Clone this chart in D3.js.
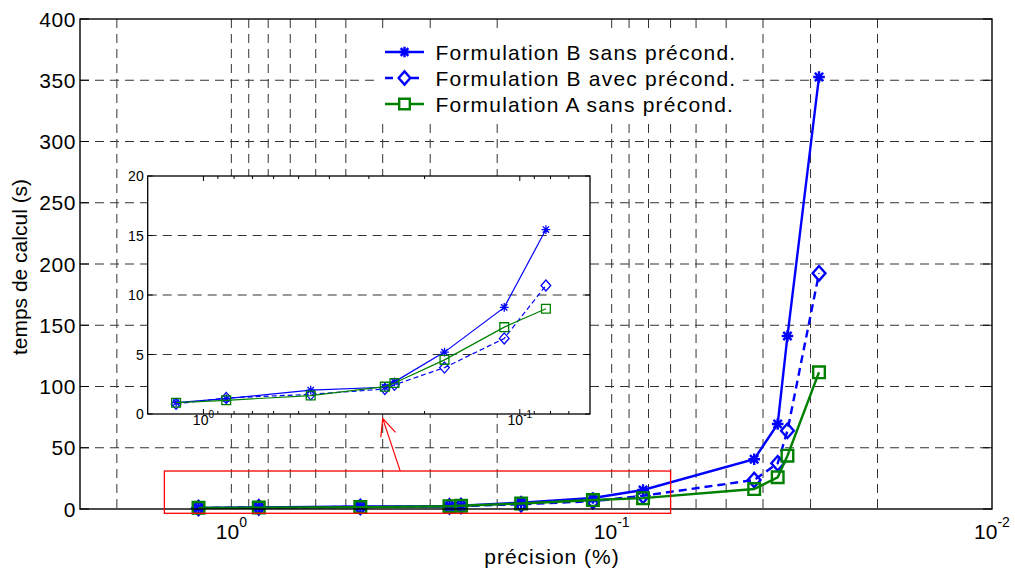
<!DOCTYPE html>
<html><head><meta charset="utf-8">
<script src="https://cdn.jsdelivr.net/npm/d3@7"></script>
<style>
body{margin:0;background:#fff}
svg{display:block}
text{font-family:"Liberation Sans",Arial,Helvetica,sans-serif;fill:#000}
</style>
</head><body>
<svg id="c" width="1015" height="574"></svg>
<script>
// ---- data ----
const precision = [1.22, 0.847, 0.458, 0.267, 0.249, 0.173, 0.112, 0.0827, 0.0422, 0.0366, 0.0345, 0.0285];
const bSans = [0.95, 1.3, 2.0, 2.25, 2.7, 5.2, 8.96, 15.5, 40.6, 69.4, 141.2, 352.7];
const bAvec = [0.85, 1.35, 1.65, 2.1, 2.45, 3.9, 6.35, 10.8, 23.7, 37.3, 63.9, 192.4];
const formA = [0.95, 1.15, 1.55, 2.3, 2.6, 4.55, 7.3, 8.85, 16.3, 25.9, 43.5, 111.6];
const seriesNames = ["Formulation B sans précond.", "Formulation B avec précond.", "Formulation A sans précond."];
const yTicks = [0, 50, 100, 150, 200, 250, 300, 350, 400];
const xTickExp = [0, -1, -2];
const insetYTicks = [0, 5, 10, 15, 20];
const insetXTickExp = [0, -1];
const insetCount = 8;              // points shown in the zoom inset
const zoomRegion = [[1.5, -3.5], [0.07, 31]];   // red box, data units
const arrowTail = [0.36, 31.3], arrowTip = [0.40, 74];

const series = [
  {name: seriesNames[0], values: bSans, color: "#0000ff", dash: null, marker: "star"},
  {name: seriesNames[1], values: bAvec, color: "#0000ff", dash: "dash", marker: "diamond"},
  {name: seriesNames[2], values: formA, color: "#008000", dash: null, marker: "square"}
];

function markerPath(type, s) {
  if (type === "star") {
    const d = s * 0.72;
    return `M${-s},0L${s},0M0,${-s}L0,${s}M${-d},${-d}L${d},${d}M${-d},${d}L${d},${-d}`;
  }
  if (type === "diamond") return `M0,${-s*1.25}L${s*1.1},0L0,${s*1.25}L${-s*1.1},0Z`;
  return `M${-s},${-s}H${s}V${s}H${-s}Z`;
}

const svg = d3.select("#c");
const gridColor = "#333";

// ---- main axes ----
const M = {l: 80, r: 992, t: 19, b: 509};
const x = d3.scaleLog().domain([2.5, 0.01]).range([M.l, M.r]);
const y = d3.scaleLinear().domain([0, 400]).range([M.b, M.t]);

const main = svg.append("g");
const xGrid = x.ticks().filter(v => v < 2.5 && v > 0.01);
main.selectAll("line.vg").data(xGrid).join("line")
  .attr("x1", d => x(d)).attr("x2", d => x(d)).attr("y1", M.t).attr("y2", M.b)
  .attr("stroke", gridColor).attr("stroke-width", 1).attr("stroke-dasharray", "9,6");
main.selectAll("line.hg").data(yTicks.filter(v => v > 0 && v < 400)).join("line")
  .attr("x1", M.l).attr("x2", M.r).attr("y1", d => y(d)).attr("y2", d => y(d))
  .attr("stroke", gridColor).attr("stroke-width", 1).attr("stroke-dasharray", "9,6");

// ticks (inside)
main.selectAll("line.yt").data(yTicks).join("line")
  .attr("x1", M.l).attr("x2", M.l + 9).attr("y1", d => y(d)).attr("y2", d => y(d)).attr("stroke", "#000");
main.selectAll("line.yt2").data(yTicks).join("line")
  .attr("x1", M.r).attr("x2", M.r - 9).attr("y1", d => y(d)).attr("y2", d => y(d)).attr("stroke", "#000");

// y tick labels
main.selectAll("text.yl").data(yTicks).join("text")
  .attr("x", M.l - 4).attr("y", d => y(d)).attr("dy", "0.36em")
  .attr("text-anchor", "end").attr("font-size", 21).attr("letter-spacing", 0.6)
  .text(d => d);

// x tick labels with superscripts
const xl = main.selectAll("text.xl").data(xTickExp).join("text")
  .attr("x", d => x(Math.pow(10, d))).attr("y", 539)
  .attr("text-anchor", "middle").attr("font-size", 21);
xl.append("tspan").text("10");
xl.append("tspan").attr("dy", -12).attr("font-size", 14).text(d => d === 0 ? "0" : "-" + Math.abs(d));

// axis labels
svg.append("text").attr("x", 552).attr("y", 564).attr("text-anchor", "middle")
  .attr("font-size", 21).attr("letter-spacing", 1).text("précision (%)");
svg.append("text").attr("transform", "translate(27,267) rotate(-90)").attr("text-anchor", "middle")
  .attr("font-size", 21).text("temps de calcul (s)");

// ---- series ----
function drawSeries(g, xs, ys, data, n, opts) {
  data.forEach(s => {
    const pts = precision.slice(0, n).map((p, i) => [p, s.values[i]]);
    g.append("path").datum(pts)
      .attr("d", d3.line().x(d => xs(d[0])).y(d => ys(d[1])))
      .attr("fill", "none").attr("stroke", s.color).attr("stroke-width", opts.lw)
      .attr("stroke-dasharray", s.dash ? opts.dash : null);
    g.selectAll(null).data(pts).join("path")
      .attr("transform", d => `translate(${xs(d[0])},${ys(d[1])})`)
      .attr("d", markerPath(s.marker, opts.ms))
      .attr("fill", "none").attr("stroke", s.color).attr("stroke-width", opts.mw);
  });
}
drawSeries(main, x, y, series, precision.length, {lw: 2.4, mw: 2.4, ms: 5.8, dash: "8,5"});

// main box
main.append("rect").attr("x", M.l).attr("y", M.t).attr("width", M.r - M.l).attr("height", M.b - M.t)
  .attr("fill", "none").attr("stroke", "#000").attr("stroke-width", 1.4);

// red zoom region and arrow
svg.append("rect")
  .attr("x", x(zoomRegion[0][0])).attr("y", y(zoomRegion[1][1]))
  .attr("width", x(zoomRegion[1][0]) - x(zoomRegion[0][0]))
  .attr("height", y(zoomRegion[0][1]) - y(zoomRegion[1][1]))
  .attr("fill", "none").attr("stroke", "#ff0000").attr("stroke-width", 1.3);
const tx = x(arrowTip[0]), ty = y(arrowTip[1]);
const fx = x(arrowTail[0]), fy = y(arrowTail[1]);
const ang = Math.atan2(fy - ty, fx - tx);
const ah = 19, spread = 0.42;
svg.append("path")
  .attr("d", `M${fx},${fy}L${tx},${ty}M${tx + ah*Math.cos(ang - spread)},${ty + ah*Math.sin(ang - spread)}L${tx},${ty}L${tx + ah*Math.cos(ang + spread)},${ty + ah*Math.sin(ang + spread)}`)
  .attr("fill", "none").attr("stroke", "#ff0000").attr("stroke-width", 1.2);

// ---- legend ----
const lg = svg.append("g");
lg.append("rect").attr("x", 379).attr("y", 33).attr("width", 364).attr("height", 85).attr("fill", "#fff");
series.forEach((s, i) => {
  const cy = 52 + i * 26;
  lg.append("line").attr("x1", 385).attr("x2", 424).attr("y1", cy).attr("y2", cy)
    .attr("stroke", s.color).attr("stroke-width", 2.4).attr("stroke-dasharray", s.dash ? "8,5" : null);
  lg.append("path").attr("transform", `translate(404.5,${cy})`).attr("d", markerPath(s.marker, 5.3))
    .attr("fill", s.marker === "star" ? "none" : "#fff").attr("stroke", s.color).attr("stroke-width", 2.4);
  lg.append("text").attr("x", 435.5).attr("y", cy + 7.5).attr("font-size", 21)
    .attr("letter-spacing", 1.2).text(s.name);
});

// ---- inset ----
const I = {l: 147.7, r: 590, t: 176, b: 414};
const xi = d3.scaleLog().domain([1.5, 0.06]).range([I.l, I.r]);
const yi = d3.scaleLinear().domain([0, 20]).range([I.b, I.t]);
const inset = svg.append("g");
inset.append("rect").attr("x", I.l).attr("y", I.t).attr("width", I.r - I.l).attr("height", I.b - I.t).attr("fill", "#fff");
inset.selectAll("line.hg").data(insetYTicks.filter(v => v > 0 && v < 20)).join("line")
  .attr("x1", I.l).attr("x2", I.r).attr("y1", d => yi(d)).attr("y2", d => yi(d))
  .attr("stroke", gridColor).attr("stroke-width", 1).attr("stroke-dasharray", "9,6");
const xiT = xi.ticks().filter(v => v < 1.5 && v > 0.06);
const isMajor = v => Math.abs(Math.log10(v) - Math.round(Math.log10(v))) < 1e-6;
[I.b, I.t].forEach((edge, k) => {
  inset.selectAll(null).data(xiT).join("line")
    .attr("x1", d => xi(d)).attr("x2", d => xi(d))
    .attr("y1", edge).attr("y2", d => edge + (k === 0 ? -1 : 1) * (isMajor(d) ? 5 : 3))
    .attr("stroke", "#000");
});
[I.l, I.r].forEach((edge, k) => {
  inset.selectAll(null).data(insetYTicks).join("line")
    .attr("x1", edge).attr("x2", edge + (k === 0 ? 5 : -5))
    .attr("y1", d => yi(d)).attr("y2", d => yi(d)).attr("stroke", "#000");
});
drawSeries(inset, xi, yi, series, insetCount, {lw: 1.2, mw: 1.3, ms: 4.4, dash: "5,3"});
inset.append("rect").attr("x", I.l).attr("y", I.t).attr("width", I.r - I.l).attr("height", I.b - I.t)
  .attr("fill", "none").attr("stroke", "#000").attr("stroke-width", 1.3);
inset.selectAll("text.yl").data(insetYTicks).join("text")
  .attr("x", I.l - 4).attr("y", d => yi(d)).attr("dy", "0.36em")
  .attr("text-anchor", "end").attr("font-size", 14).text(d => d);
const xil = inset.selectAll("text.xl").data(insetXTickExp).join("text")
  .attr("x", d => xi(Math.pow(10, d))).attr("y", 425)
  .attr("text-anchor", "middle").attr("font-size", 14);
xil.append("tspan").text("10");
xil.append("tspan").attr("dy", -7).attr("font-size", 10).text(d => d === 0 ? "0" : "-" + Math.abs(d));
</script>
</body></html>
